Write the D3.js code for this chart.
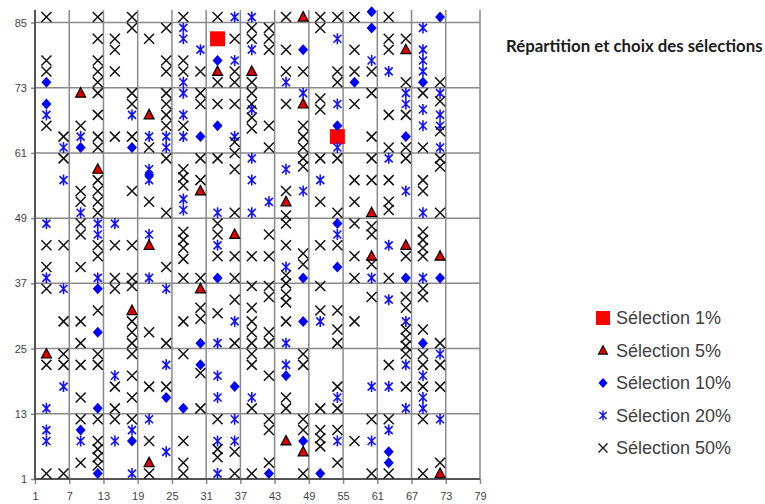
<!DOCTYPE html>
<html lang="fr">
<head>
<meta charset="UTF-8">
<title>Répartition et choix des sélections</title>
<script src="https://cdn.jsdelivr.net/npm/d3@7"></script>
<style>
  body { margin: 0; background: #fff; }
  svg { display: block; }
</style>
</head>
<body>
<svg id="chart" width="765" height="504"></svg>
<script>
// ticks
const xTicks = [1, 7, 13, 19, 25, 31, 37, 43, 49, 55, 61, 67, 73, 79];
const yTicks = [1, 13, 25, 37, 49, 61, 73, 85];

// series, [x, y]
const sel1 = [[33, 82], [54, 64]];

const sel5 = [[3, 24], [9, 72], [12, 58], [18, 32], [21, 68], [21, 44], [21, 4], [30, 54], [30, 36],
  [33, 76], [36, 46], [39, 76], [45, 52], [45, 8], [48, 86], [48, 70], [48, 6], [60, 50], [60, 42],
  [66, 80], [66, 44], [72, 42], [72, 2]];

const sel10 = [[3, 74], [3, 70], [9, 62], [9, 10], [12, 36], [12, 28], [12, 14], [12, 2], [18, 62], [18, 8],
  [21, 57], [24, 16], [27, 14], [30, 64], [30, 26], [30, 22], [33, 78], [33, 66], [33, 38], [36, 18],
  [42, 2], [45, 20], [48, 80], [48, 38], [48, 30], [48, 8], [51, 2], [54, 66], [54, 48], [54, 40],
  [57, 74], [60, 87], [60, 84], [63, 6], [63, 4], [66, 64], [66, 38], [69, 74], [69, 26], [72, 86], [72, 38]];

const sel20 = [
  [3, 68], [3, 48], [3, 38], [3, 14], [3, 10], [3, 8],
  [6, 62], [6, 56], [6, 36], [6, 18],
  [9, 64], [9, 50], [9, 8],
  [12, 48], [12, 46], [12, 38],
  [15, 48], [15, 20], [15, 8],
  [18, 68], [18, 10], [18, 2],
  [21, 64], [21, 58], [21, 56], [21, 46], [21, 38], [21, 12],
  [24, 64], [24, 62], [24, 36], [24, 22], [24, 6],
  [27, 84], [27, 82], [27, 74], [27, 72], [27, 68], [27, 64], [27, 52.5], [27, 50.5],
  [30, 80],
  [33, 50], [33, 44], [33, 26], [33, 20], [33, 16], [33, 8], [33, 2],
  [36, 86], [36, 78], [36, 64], [36, 30], [36, 12], [36, 8],
  [39, 86], [39, 80], [39, 69], [39, 60], [39, 56], [39, 50], [39, 16],
  [42, 52],
  [45, 74], [45, 58], [45, 40], [45, 26], [45, 22],
  [48, 72], [48, 54],
  [51, 56], [51, 30],
  [54, 82], [54, 70], [54, 62], [54, 46], [54, 16], [54, 8],
  [60, 78], [60, 38], [60, 18], [60, 8],
  [63, 76], [63, 60], [63, 44], [63, 34], [63, 18], [63, 10],
  [66, 72], [66, 70], [66, 54], [66, 30], [66, 22], [66, 14],
  [69, 84], [69, 80], [69, 78], [69, 76], [69, 69], [69, 66], [69, 50], [69, 38], [69, 20], [69, 16], [69, 14],
  [72, 72], [72, 68], [72, 66], [72, 62], [72, 24], [72, 12]];

const sel50 = [
  [3, 86], [3, 78], [3, 76], [3, 66], [3, 44], [3, 40], [3, 36], [3, 22], [3, 2],
  [6, 64], [6, 60], [6, 44], [6, 30], [6, 24], [6, 22], [6, 2],
  [9, 66], [9, 54], [9, 52], [9, 48], [9, 46], [9, 40], [9, 30], [9, 26], [9, 22], [9, 16], [9, 12], [9, 4],
  [12, 86], [12, 82], [12, 78], [12, 76], [12, 74], [12, 72], [12, 68], [12, 64], [12, 62], [12, 56], [12, 54],
  [12, 52], [12, 50], [12, 44], [12, 42], [12, 32], [12, 24], [12, 22], [12, 12], [12, 8], [12, 6.5], [12, 5], [12, 3.5],
  [15, 82], [15, 80], [15, 76], [15, 64], [15, 44], [15, 38], [15, 36], [15, 18], [15, 14], [15, 12],
  [18, 86], [18, 84], [18, 72], [18, 70], [18, 64], [18, 54], [18, 44], [18, 38], [18, 36.5], [18, 30], [18, 28],
  [18, 26], [18, 24], [18, 20], [18, 16], [18, 12],
  [21, 82], [21, 62], [21, 52], [21, 28], [21, 18], [21, 8], [21, 2],
  [24, 84], [24, 78], [24, 76], [24, 72], [24, 70], [24, 68], [24, 66], [24, 60], [24, 50], [24, 40], [24, 26], [24, 18],
  [27, 86], [27, 78], [27, 76], [27, 66], [27, 58], [27, 56.5], [27, 55], [27, 46.5], [27, 45], [27, 43.5], [27, 41.5],
  [27, 38], [27, 30], [27, 24], [27, 8], [27, 4], [27, 2],
  [30, 76], [30, 72], [30, 70], [30, 60], [30, 56], [30, 38], [30, 32.5], [30, 30.5], [30, 20.5], [30, 14],
  [33, 86], [33, 74], [33, 70], [33, 60], [33, 48], [33, 46], [33, 42], [33, 31.5], [33, 12], [33, 6.5], [33, 5],
  [36, 82], [36, 76], [36, 74], [36, 70], [36, 63], [36, 61], [36, 58], [36, 50], [36, 42], [36, 38], [36, 34],
  [36, 26], [36, 6], [36, 2],
  [39, 84], [39, 82], [39, 74], [39, 72], [39, 70], [39, 67.5], [39, 65.5], [39, 42], [39, 36.5], [39, 32.5],
  [39, 30], [39, 28], [39, 26], [39, 24], [39, 22], [39, 14], [39, 2],
  [42, 84], [42, 82], [42, 80], [42, 66], [42, 62], [42, 46], [42, 42], [42, 36.5], [42, 34.5], [42, 28], [42, 26],
  [42, 20], [42, 12], [42, 10], [42, 4],
  [45, 86], [45, 80], [45, 76], [45, 70], [45, 54], [45, 49.5], [45, 48], [45, 44], [45, 38.5], [45, 37], [45, 35],
  [45, 33.5], [45, 30], [45, 16], [45, 14],
  [48, 76], [48, 66], [48, 64], [48, 62], [48, 60], [48, 58.5], [48, 42.5], [48, 40.5], [48, 24], [48, 22], [48, 12],
  [48, 10], [48, 2],
  [51, 86], [51, 84], [51, 71], [51, 69], [51, 60], [51, 52], [51, 44], [51, 36.5], [51, 32], [51, 14], [51, 10],
  [51, 8.5], [51, 7],
  [54, 86], [54, 76], [54, 74], [54, 60], [54, 50], [54, 44], [54, 32], [54, 28.5], [54, 26], [54, 18], [54, 14],
  [54, 10], [54, 4],
  [57, 86], [57, 80], [57, 76], [57, 70], [57, 56], [57, 52], [57, 48], [57, 42], [57, 38], [57, 30], [57, 8],
  [60, 76], [60, 72], [60, 64], [60, 60], [60, 56], [60, 47.5], [60, 46], [60, 40.5], [60, 34.5], [60, 12], [60, 2],
  [63, 86], [63, 82], [63, 80], [63, 68], [63, 62], [63, 56], [63, 52], [63, 50.5], [63, 38], [63, 22], [63, 12], [63, 2],
  [66, 82], [66, 74], [66, 68], [66, 62], [66, 60], [66, 42], [66, 34.5], [66, 32.5], [66, 28.5], [66, 27], [66, 25.5],
  [66, 24], [66, 18],
  [69, 72], [69, 62], [69, 56], [69, 54], [69, 46.5], [69, 45], [69, 43.5], [69, 42], [69, 36], [69, 34.5], [69, 28.5],
  [69, 24], [69, 22], [69, 18], [69, 12], [69, 2],
  [72, 74], [72, 70.5], [72, 65], [72, 60], [72, 58.5], [72, 50], [72, 26], [72, 22], [72, 18], [72, 4]];

const legendLabels = ["Sélection 1%", "Sélection 5%", "Sélection 10%", "Sélection 20%", "Sélection 50%"];

const svg = d3.select("#chart");
svg.append("rect").attr("width", 765).attr("height", 504).attr("fill", "#fff");

const x = d3.scaleLinear().domain([1, 79]).range([35, 480]);
const y = d3.scaleLinear().domain([1, 87.3]).range([479, 10]);

// grid
const grid = svg.append("g");
grid.selectAll(".vg").data(xTicks.slice(1)).join("line")
  .attr("x1", d => x(d)).attr("x2", d => x(d))
  .attr("y1", y(87.3)).attr("y2", y(1))
  .attr("stroke", "#8a8a8a").attr("stroke-width", 1.5);
grid.selectAll(".hg").data(yTicks.slice(1)).join("line")
  .attr("x1", x(1)).attr("x2", x(79))
  .attr("y1", d => y(d)).attr("y2", d => y(d))
  .attr("stroke", "#8a8a8a").attr("stroke-width", 1.5);

// axes
const gx = svg.append("g").attr("transform", "translate(0," + y(1) + ")")
  .call(d3.axisBottom(x).tickValues(xTicks).tickSize(5).tickPadding(8).tickSizeOuter(0));
const gy = svg.append("g").attr("transform", "translate(" + x(1) + ",0)")
  .call(d3.axisLeft(y).tickValues(yTicks).tickSize(4).tickPadding(4).tickSizeOuter(0));
[gx, gy].forEach(g => {
  g.select(".domain").remove();
  g.selectAll(".tick line").attr("stroke", "#8a8a8a").attr("stroke-width", 1.5);
  g.selectAll(".tick text").attr("fill", "#444").style("font-family", "Liberation Sans, Arial, sans-serif").style("font-size", "11px");
});
svg.append("line").attr("x1", x(1)).attr("x2", x(1)).attr("y1", y(87.3)).attr("y2", y(1) + 1)
  .attr("stroke", "#555").attr("stroke-width", 2);
svg.append("line").attr("x1", x(1) - 1).attr("x2", x(79)).attr("y1", y(1)).attr("y2", y(1))
  .attr("stroke", "#555").attr("stroke-width", 2);

// marker shapes
const shapes = {
  square: "M-7.5,-7.5H7.5V7.5H-7.5Z",
  triangle: "M0,-5.5L5,4L-5,4Z",
  diamond: "M0,-5.5L5,0L0,5.5L-5,0Z",
  star: "M-4,-4L4,4M-4,4L4,-4M0,-5.5L0,5.5",
  cross: "M-5,-5L5,5M-5,5L5,-5"
};
const styles = [
  { data: sel1, d: shapes.square, fill: "#ff0000", stroke: "none", sw: 0 },
  { data: sel5, d: shapes.triangle, fill: "#e00000", stroke: "#000", sw: 1.2 },
  { data: sel10, d: shapes.diamond, fill: "#0000ff", stroke: "none", sw: 0 },
  { data: sel20, d: shapes.star, fill: "none", stroke: "#1010ff", sw: 1.6 },
  { data: sel50, d: shapes.cross, fill: "none", stroke: "#111", sw: 1.5 }
];

styles.forEach(s => {
  svg.append("g").selectAll("path").data(s.data).join("path")
    .attr("transform", d => "translate(" + x(d[0]) + "," + y(d[1]) + ")")
    .attr("d", s.d)
    .attr("fill", s.fill)
    .attr("stroke", s.stroke)
    .attr("stroke-width", s.sw);
});

// title
svg.append("text").attr("x", 506).attr("y", 52)
  .style("font-family", "Lato, sans-serif").style("font-weight", "bold").style("font-size", "16.8px")
  .attr("fill", "#1a1a1a")
  .text("Répartition et choix des sélections");

// legend
const legend = svg.append("g").attr("transform", "translate(603,318)");
const item = legend.selectAll("g").data(styles).join("g")
  .attr("transform", (d, i) => "translate(0," + i * 32.5 + ")");
item.append("path")
  .attr("d", (d, i) => i === 0 ? "M-7,-7H7V7H-7Z" : d.d)
  .attr("transform", (d, i) => i === 0 ? null : "scale(0.9)")
  .attr("fill", d => d.fill).attr("stroke", d => d.stroke).attr("stroke-width", d => d.sw);
item.append("text").attr("x", 13).attr("dy", "0.35em")
  .style("font-family", "Liberation Sans, Arial, sans-serif").style("font-size", "18px")
  .attr("fill", "#404040")
  .text((d, i) => legendLabels[i]);
</script>
</body>
</html>
